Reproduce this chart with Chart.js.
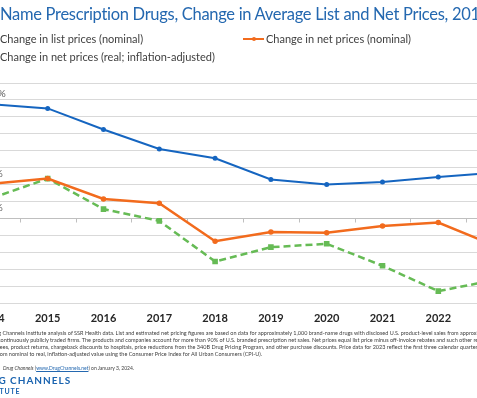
<!DOCTYPE html>
<html lang="en">
<head>
<meta charset="utf-8"/>
<title>Brand-Name Prescription Drugs, Change in Average List and Net Prices</title>
<script src="https://cdn.jsdelivr.net/npm/chart.js"></script>
<style>
html, body {
  margin: 0;
  padding: 0;
  background: #fff;
}
body {
  position: relative;
  width: 477px;
  height: 398px;
  overflow: hidden;
  font-family: Lato, "Liberation Sans", sans-serif;
}
#wrap {
  position: absolute;
  left: -36px;
  top: 0;
  width: 558px;
  height: 398px;
}
.txt {
  position: absolute;
  white-space: nowrap;
  z-index: 2;
}
.pre {
  position: absolute;
  right: 100%;
}
#title {
  left: 0;
  top: 6px;
  font-size: 16.5px;
  line-height: 17px;
  letter-spacing: -0.3px;
  color: #2468b0;
}
.leg {
  font-size: 11px;
  line-height: 11px;
  color: #404040;
  display: flex;
  align-items: center;
}
.leg i {
  display: inline-block;
  position: relative;
  width: 21px;
  height: 2px;
  margin-right: 2px;
}
.leg i b {
  position: absolute;
  left: 9px;
  top: -1px;
  width: 4px;
  height: 4px;
  border-radius: 2px;
}
.note {
  font-size: 5.5px;
  line-height: 7px;
  color: #404040;
}
.note a {
  color: #2468b0;
  text-decoration: underline;
}
.logo {
  font-weight: bold;
  color: #1b64b0;
}
</style>
</head>
<body>
<div class="txt" id="title"><span class="pre">Brand-</span>Name Prescription Drugs, Change in Average List and Net Prices, 2014-2023</div>

<div class="txt leg" style="left:-23px; top:33px;"><i style="background:#1565c0"><b style="background:#1565c0"></b></i>Change in list prices (nominal)</div>
<div class="txt leg" style="left:243px; top:33px;"><i style="background:#f26b1d"><b style="background:#f26b1d"></b></i>Change in net prices (nominal)</div>
<div class="txt leg" style="left:-23px; top:51px;"><i style="background:#66bb55"><b style="background:#66bb55"></b></i>Change in net prices (real; inflation-adjusted)</div>

<div id="wrap"><canvas id="chart"></canvas></div>

<div class="txt note" style="left:-11px; top:330px;">Drug Channels Institute analysis of SSR Health data. List and estimated net pricing figures are based on data for approximately 1,000 brand-name drugs with disclosed U.S. product-level sales from approximately 100</div>
<div class="txt note" style="left:-2px; top:337px;">continuously publicly traded firms. The products and companies account for more than 90% of U.S. branded prescription net sales. Net prices equal list price minus off-invoice rebates and such other reductions</div>
<div class="txt note" style="left:-2px; top:344px;">fees, product returns, chargeback discounts to hospitals, price reductions from the 340B Drug Pricing Program, and other purchase discounts. Price data for 2023 reflect the first three calendar quarters.</div>
<div class="txt note" style="left:-4px; top:351px;">from nominal to real, inflation-adjusted value using the Consumer Price Index for All Urban Consumers (CPI-U).</div>
<div class="txt note" style="left:3px; top:365px; font-size:5px;"><i>Drug Channels</i> (<a>www.DrugChannels.net</a>) on January 3, 2024.</div>
<div class="txt logo" style="left:-26px; top:375px; font-size:10px; line-height:10px; letter-spacing:1px;">DRUG CHANNELS</div>
<div class="txt logo" style="left:-22px; top:388px; font-size:7px; line-height:7px; letter-spacing:0.8px;">INSTITUTE</div>

<script>
"use strict";
const years = ["2014", "2015", "2016", "2017", "2018", "2019", "2020", "2021", "2022", "2023"];
const listNominal = [13.5, 13.0, 10.5, 8.2, 7.1, 4.6, 4.0, 4.3, 4.9, 5.4];
const netNominal = [4.1, 4.7, 2.3, 1.8, -2.7, -1.6, -1.7, -0.9, -0.5, -3.2];
const netReal = [2.4, 4.7, 1.1, -0.3, -5.1, -3.4, -3.0, -5.6, -8.6, -7.3];
const yMin = -10;
const yMax = 16;
const yStep = 2;

Chart.defaults.font.family = "Lato, 'Liberation Sans', sans-serif";

// value labels on first and last points
const pointLabels = {
  id: "pointLabels",
  afterDatasetsDraw(chart){
    const ctx = chart.ctx;
    ctx.save();
    ctx.font = "10px Lato";
    ctx.fillStyle = "#595959";
    ctx.textAlign = "center";
    ctx.textBaseline = "middle";
    chart.data.datasets.forEach((ds, i) => {
      const meta = chart.getDatasetMeta(i);
      [0, ds.data.length - 1].forEach(j => {
        const p = meta.data[j];
        ctx.fillText(ds.data[j].toFixed(1) + "%", p.x, p.y + ds.labelShift);
      });
    });
    ctx.restore();
  }
};

// small tick marks hanging off the zero line
const zeroTicks = {
  id: "zeroTicks",
  beforeDatasetsDraw(chart){
    const {ctx, scales: {x, y}} = chart;
    const y0 = Math.round(y.getPixelForValue(0)) + 0.5;
    ctx.save();
    ctx.strokeStyle = "#bfbfbf";
    ctx.lineWidth = 1;
    ctx.beginPath();
    for(let i = 0; i <= years.length; i++){
      const px = Math.round(x.getPixelForValue(i - 0.5)) + 0.5;
      ctx.moveTo(px, y0);
      ctx.lineTo(px, y0 + 4);
    }
    ctx.stroke();
    ctx.restore();
  }
};

new Chart(document.getElementById("chart"), {
  type: "line",
  data: {
    labels: years,
    datasets: [
      {
        label: "Change in list prices (nominal)",
        data: listNominal,
        borderColor: "#1565c0",
        backgroundColor: "#1565c0",
        borderWidth: 2,
        pointRadius: 1.5,
        pointStyle: "circle",
        labelShift: -10
      },
      {
        label: "Change in net prices (nominal)",
        data: netNominal,
        borderColor: "#f26b1d",
        backgroundColor: "#f26b1d",
        borderWidth: 2.5,
        pointRadius: 1.5,
        pointStyle: "circle",
        labelShift: -10
      },
      {
        label: "Change in net prices (real; inflation-adjusted)",
        data: netReal,
        borderColor: "#66bb55",
        backgroundColor: "#66bb55",
        borderWidth: 2.5,
        borderDash: [7, 4],
        pointRadius: 2.2,
        pointStyle: "rect",
        labelShift: 10
      }
    ]
  },
  options: {
    responsive: true,
    maintainAspectRatio: false,
    animation: false,
    layout: {
      autoPadding: false,
      padding: {top: 83, bottom: 65, left: 0, right: 0}
    },
    plugins: {
      legend: {display: false},
      tooltip: {enabled: false}
    },
    scales: {
      x: {
        offset: true,
        grid: {display: false},
        border: {display: false},
        ticks: {
          color: "#262626",
          padding: 1,
          font: {size: 11, weight: "bold"}
        },
        afterFit: (scale) => { scale.height = 30; }
      },
      y: {
        min: yMin,
        max: yMax,
        ticks: {display: false, stepSize: yStep},
        border: {display: false},
        grid: {
          drawTicks: false,
          color: (c) => c.tick && c.tick.value === 0 ? "#bfbfbf" : "#d9d9d9"
        },
        afterFit: (scale) => { scale.width = 0; }
      }
    }
  },
  plugins: [zeroTicks, pointLabels]
});
</script>
</body>
</html>
